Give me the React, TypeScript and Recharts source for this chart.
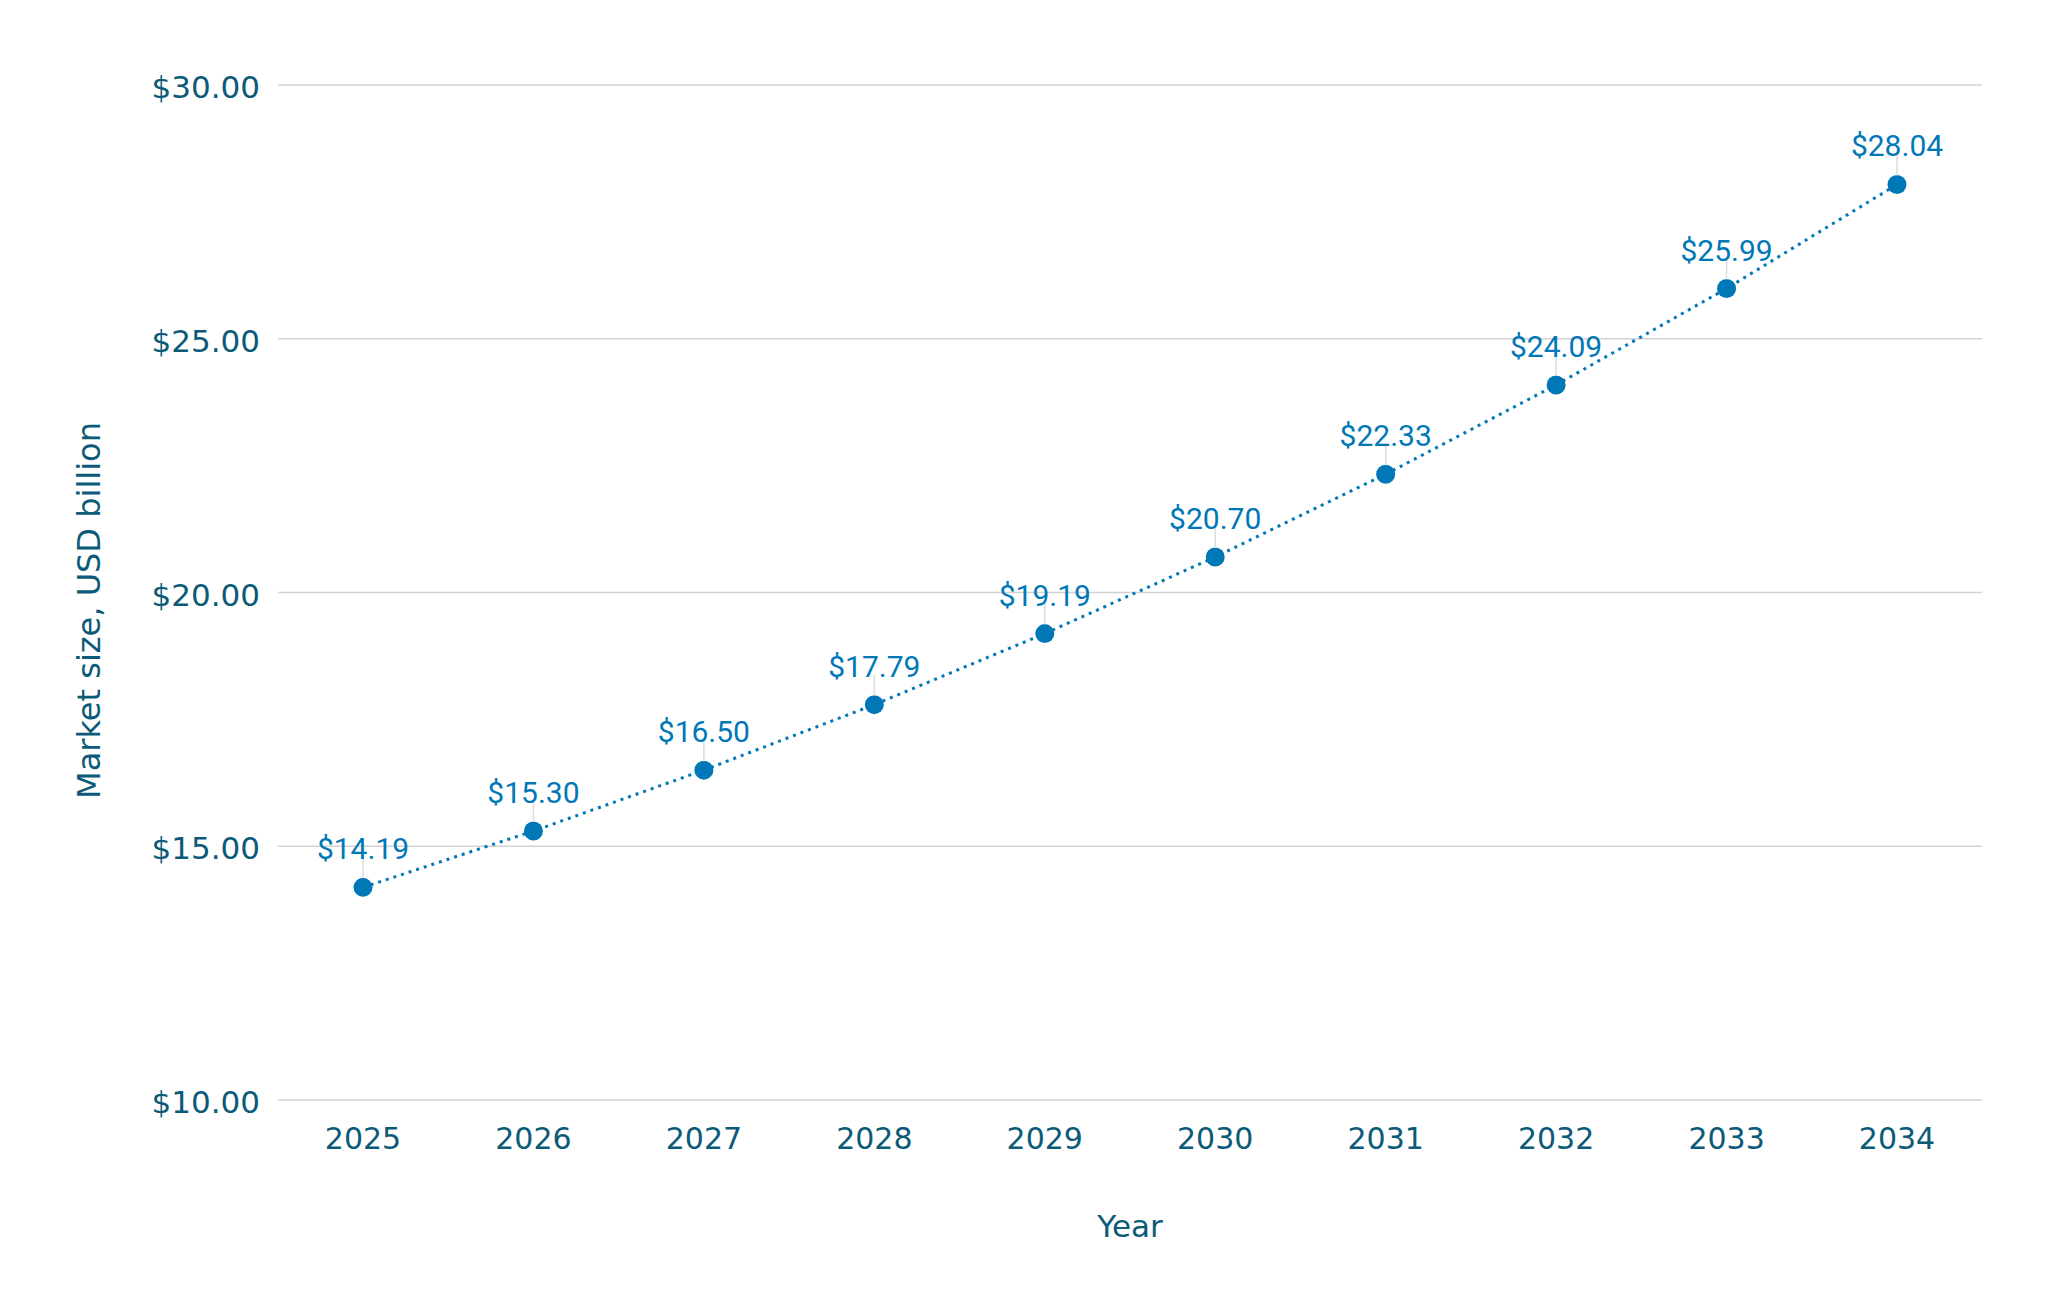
import React from "react";
import { LineChart, Line, XAxis, YAxis, CartesianGrid, Label, LabelList } from "recharts";

const years = ["2025", "2026", "2027", "2028", "2029", "2030", "2031", "2032", "2033", "2034"];
const marketSize = [14.19, 15.3, 16.5, 17.79, 19.19, 20.7, 22.33, 24.09, 25.99, 28.04];
const yTicks = [10, 15, 20, 25, 30];

const data = years.map((year, i) => ({ year, value: marketSize[i] }));

const BLUE = "#0077b6";
const TEAL = "#0b5a78";
const AXIS_FONT = "'DejaVu Sans', Verdana, sans-serif";

const money = (v: number) => `$${v.toFixed(2)}`;

const ValueLabel = (props: any) => {
  const { x, y, value } = props;
  if (x == null || y == null) return null;
  return (
    <g>
      <line x1={x} x2={x} y1={y - 30} y2={y - 9} stroke="#dcdcdc" strokeWidth={1.5} />
      <text
        x={x}
        y={y - 28}
        textAnchor="middle"
        fill={BLUE}
        fontSize={30}
        fontFamily="Roboto, sans-serif"
      >
        {money(Number(value))}
      </text>
    </g>
  );
};

const YTitle = (props: any) => {
  const { viewBox } = props;
  const cx = 100;
  const cy = viewBox.y + viewBox.height / 2 + 18;
  return (
    <text
      x={cx}
      y={cy}
      transform={`rotate(-90 ${cx} ${cy})`}
      textAnchor="middle"
      fill={TEAL}
      fontSize={32}
      fontFamily={AXIS_FONT}
    >
      Market size, USD billion
    </text>
  );
};

export default function App() {
  return (
    <div style={{ position: "absolute", left: 0, top: 0, width: 2048, height: 1310, background: "#fff" }}>
      <LineChart
        width={2048}
        height={1310}
        data={data}
        margin={{ top: 85, right: 66, bottom: 60, left: 0 }}
      >
        <CartesianGrid vertical={false} stroke="#d2d2d2" strokeWidth={1.5} />
        <XAxis
          dataKey="year"
          padding={{ left: 85, right: 85 }}
          axisLine={false}
          tickLine={false}
          tickSize={6}
          tickMargin={22}
          height={150}
          tick={{ fill: TEAL, fontSize: 30, fontFamily: AXIS_FONT }}
        >
          <Label
            value="Year"
            position="insideBottom"
            offset={13}
            fill={TEAL}
            fontSize={31}
            fontFamily={AXIS_FONT}
          />
        </XAxis>
        <YAxis
          width={278}
          domain={[10, 30]}
          ticks={yTicks}
          tickFormatter={money}
          axisLine={false}
          tickLine={false}
          tickSize={6}
          tickMargin={12}
          tick={{ fill: TEAL, fontSize: 31, fontFamily: AXIS_FONT, dy: 2 }}
        >
          <Label content={YTitle} position="insideLeft" />
        </YAxis>
        <Line
          type="linear"
          dataKey="value"
          stroke={BLUE}
          strokeWidth={3}
          strokeDasharray="3 5"
          dot={{ r: 9.5, fill: BLUE, stroke: BLUE, strokeWidth: 0 }}
          activeDot={false}
          isAnimationActive={false}
        >
          <LabelList dataKey="value" content={ValueLabel} />
        </Line>
      </LineChart>
    </div>
  );
}
